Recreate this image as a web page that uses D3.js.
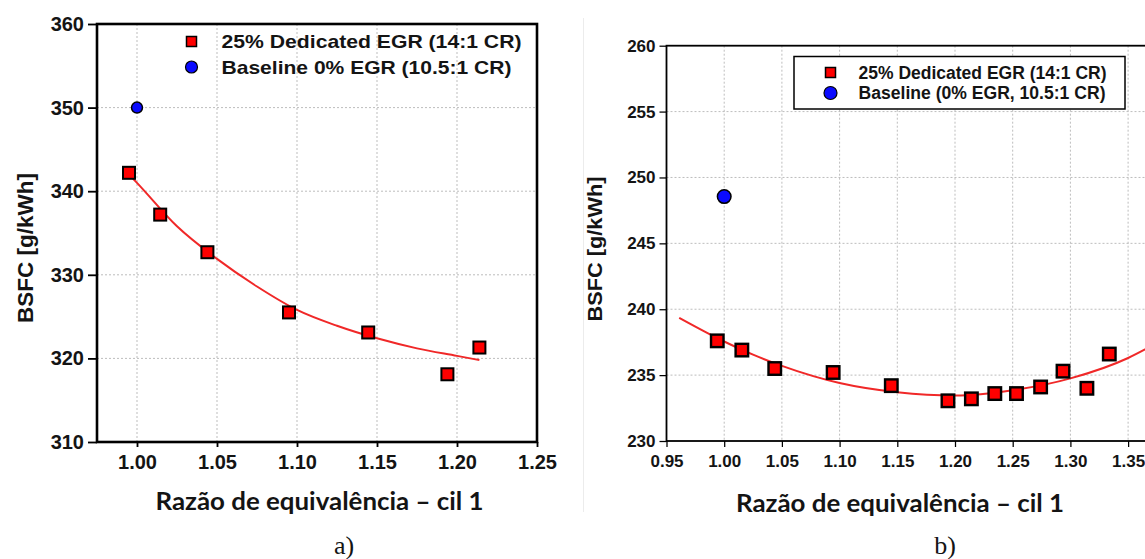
<!DOCTYPE html>
<html>
<head>
<meta charset="utf-8">
<script src="https://cdnjs.cloudflare.com/ajax/libs/d3/7.8.5/d3.min.js"></script>
<style>
body { margin: 0; background: #fff; }
svg { display: block; }
text { font-family: "Liberation Sans", Arial, sans-serif; font-weight: bold; fill: #141414; }
</style>
</head>
<body>
<div id="container"></div>
<script>
///data panel a)
const phiA = [0.995, 1.0145, 1.044, 1.095, 1.1445, 1.194, 1.214];
const bsfcA = [342.2, 337.2, 332.7, 325.5, 323.1, 318.1, 321.3];
const basePhiA = [1.00];
const baseBsfcA = [350.0];
const fitPhiA = [0.995, 1.00, 1.025, 1.05, 1.075, 1.10, 1.125, 1.15, 1.175, 1.20, 1.214];
const fitBsfcA = [342.0, 341.0, 335.8, 331.9, 328.6, 325.8, 323.9, 322.4, 321.2, 320.3, 319.8];
const xTicksA = [1.00, 1.05, 1.10, 1.15, 1.20, 1.25];
const yTicksA = [310, 320, 330, 340, 350, 360];
const legendA = ["25% Dedicated EGR (14:1 CR)", "Baseline 0% EGR (10.5:1 CR)"];

///data panel b)
const phiB = [0.994, 1.0153, 1.0438, 1.0944, 1.1448, 1.1939, 1.2142, 1.2345, 1.2533, 1.2742, 1.2936, 1.3143, 1.3337];
const bsfcB = [237.6, 236.9, 235.5, 235.2, 234.2, 233.05, 233.2, 233.6, 233.6, 234.1, 235.3, 234.0, 236.6];
const basePhiB = [1.00];
const baseBsfcB = [248.55];
const fitPhiB = [0.961, 1.00, 1.025, 1.05, 1.10, 1.15, 1.20, 1.25, 1.30, 1.35, 1.37];
const fitBsfcB = [239.35, 237.55, 236.55, 235.7, 234.4, 233.7, 233.45, 233.85, 234.75, 236.3, 237.2];
const xTicksB = [0.95, 1.00, 1.05, 1.10, 1.15, 1.20, 1.25, 1.30, 1.35];
const yTicksB = [230, 235, 240, 245, 250, 255, 260];
const legendB = ["25% Dedicated EGR (14:1 CR)", "Baseline (0% EGR, 10.5:1 CR)"];

const xTitle = "Razão de equivalência – cil 1";
const yTitle = "BSFC [g/kWh]";
const panelTags = ["a)", "b)"];

///svg
const w = 1145, h = 559;
const svg = d3.select("#container").append("svg").attr("width", w).attr("height", h);

// faint border of the second picture
svg.append("line").attr("x1", 583.5).attr("x2", 583.5).attr("y1", 18).attr("y2", 512)
  .attr("stroke", "#ececec").attr("stroke-width", 1);

function panel(p) {
  const x = d3.scaleLinear().domain(p.xDomain).range([p.left, p.right]);
  const y = d3.scaleLinear().domain(p.yDomain).range([p.bottom, p.top]);
  const g = svg.append("g");
  const clipId = "clip" + p.id;
  g.append("clipPath").attr("id", clipId).append("rect")
    .attr("x", p.left).attr("y", p.top).attr("width", p.right - p.left).attr("height", p.bottom - p.top);

  ///grid
  const grid = g.append("g").attr("stroke", "#bdbdbd").attr("stroke-width", 1).attr("stroke-dasharray", "2,2");
  grid.selectAll(".vx").data(p.xTicks.filter(t => t > p.xDomain[0] + 1e-9 && t < p.xDomain[1] - 1e-9)).join("line")
    .attr("x1", d => x(d)).attr("x2", d => x(d)).attr("y1", p.top).attr("y2", p.bottom);
  grid.selectAll(".hy").data(p.yTicks.filter(t => t > p.yDomain[0] && t < p.yDomain[1])).join("line")
    .attr("x1", p.left).attr("x2", p.right).attr("y1", d => y(d)).attr("y2", d => y(d));

  ///fit line
  const line = d3.line().x(d => x(d[0])).y(d => y(d[1])).curve(d3.curveMonotoneX);
  g.append("path").datum(d3.zip(p.fitX, p.fitY)).attr("clip-path", "url(#" + clipId + ")")
    .attr("d", line).attr("fill", "none").attr("stroke", "#f02828").attr("stroke-width", 2);

  ///markers
  const s = p.sq;
  g.append("g").attr("clip-path", "url(#" + clipId + ")").selectAll("rect").data(d3.zip(p.ptX, p.ptY)).join("rect")
    .attr("x", d => x(d[0]) - s / 2).attr("y", d => y(d[1]) - s / 2)
    .attr("width", s).attr("height", s)
    .attr("fill", "#ff0000").attr("stroke", "#000").attr("stroke-width", p.sqStroke);
  g.append("g").selectAll("circle").data(d3.zip(p.baseX, p.baseY)).join("circle")
    .attr("cx", d => x(d[0])).attr("cy", d => y(d[1])).attr("r", p.circR)
    .attr("fill", "#0a0aff").attr("stroke", "#000").attr("stroke-width", 1.5);

  ///axes
  const ax = g.append("g").attr("transform", "translate(0," + p.bottom + ")")
    .call(d3.axisBottom(x).tickValues(p.xTicks).tickFormat(d3.format(".2f"))
      .tickSize(p.xTick).tickSizeOuter(0).tickPadding(p.xPad));
  const ay = g.append("g").attr("transform", "translate(" + p.left + ",0)")
    .call(d3.axisLeft(y).tickValues(p.yTicks).tickFormat(d3.format(".0f"))
      .tickSize(p.yTick).tickSizeOuter(0).tickPadding(p.yPad));
  [ax, ay].forEach(a => {
    a.select(".domain").remove();
    a.selectAll("line").attr("stroke", "#000").attr("stroke-width", p.axisW * 0.7);
    a.selectAll("text").attr("font-family", null).style("font-size", p.tickFont + "px").attr("fill", "#1a1a1a");
  });

  ///frame
  g.append("rect").attr("x", p.left).attr("y", p.top).attr("width", p.right - p.left).attr("height", p.bottom - p.top)
    .attr("fill", "none").attr("stroke", "#000").attr("stroke-width", p.axisW);

  ///legend
  if (p.legendBox) {
    g.append("rect").attr("x", p.legendBox[0]).attr("y", p.legendBox[1])
      .attr("width", p.legendBox[2]).attr("height", p.legendBox[3])
      .attr("fill", "#fff").attr("stroke", "#000").attr("stroke-width", 1.5);
  }
  const lg = g.append("g");
  lg.append("rect").attr("x", p.legX - p.legSq / 2).attr("y", p.legY[0] - p.legSq / 2)
    .attr("width", p.legSq).attr("height", p.legSq)
    .attr("fill", "#ff0000").attr("stroke", "#000").attr("stroke-width", 1.5);
  lg.append("circle").attr("cx", p.legX).attr("cy", p.legY[1]).attr("r", p.legR)
    .attr("fill", "#0a0aff").attr("stroke", "#000").attr("stroke-width", 1.2);
  lg.selectAll("text").data(p.legend).join("text")
    .attr("x", p.legTextX).attr("y", (d, i) => p.legY[i]).attr("dy", "0.36em")
    .attr("textLength", (d, i) => p.legW[i]).attr("lengthAdjust", "spacingAndGlyphs")
    .style("font-size", p.legFont + "px").text(d => d);

  ///titles
  g.append("text").attr("transform", "translate(" + p.yTitlePos[0] + "," + p.yTitlePos[1] + ") rotate(-90)")
    .attr("text-anchor", "middle").attr("textLength", p.yTitleLen).attr("lengthAdjust", "spacingAndGlyphs")
    .style("font-size", p.yTitleFont + "px").attr("fill", "#111").text(yTitle);
  g.append("text").attr("x", p.xTitlePos[0]).attr("y", p.xTitlePos[1]).attr("text-anchor", "middle")
    .attr("textLength", 328).attr("lengthAdjust", "spacingAndGlyphs")
    .style("font-family", "Lato, 'Open Sans', sans-serif").style("font-weight", "700").style("font-size", "24px")
    .attr("fill", "#000").text(xTitle);
  g.append("text").attr("x", p.tagPos[0]).attr("y", p.tagPos[1]).attr("text-anchor", "middle")
    .style("font-family", "'Liberation Serif', 'Times New Roman', serif").style("font-weight", "normal")
    .style("font-size", "26px").attr("fill", "#000").text(p.tag);
}

panel({
  id: "a", xDomain: [0.975, 1.25], yDomain: [310, 360],
  left: 97, right: 537, top: 24, bottom: 442,
  xTicks: xTicksA, yTicks: yTicksA,
  ptX: phiA, ptY: bsfcA, baseX: basePhiA, baseY: baseBsfcA, fitX: fitPhiA, fitY: fitBsfcA,
  sq: 12, sqStroke: 2, circR: 5.5, axisW: 2.6,
  xTick: 5, xPad: 8, yTick: 9, yPad: 4, tickFont: 20,
  legend: legendA, legX: 191.5, legY: [41.5, 67], legSq: 10, legR: 6,
  legTextX: 221.5, legW: [300, 290], legFont: 19,
  yTitlePos: [33, 248], yTitleLen: 150, yTitleFont: 22,
  xTitlePos: [319.5, 510], tag: panelTags[0], tagPos: [344, 554]
});

panel({
  id: "b", xDomain: [0.95, 1.40], yDomain: [230, 260],
  left: 666.5, right: 666.5 + 9 * 57.7, top: 45.7, bottom: 441,
  xTicks: xTicksB, yTicks: yTicksB,
  ptX: phiB, ptY: bsfcB, baseX: basePhiB, baseY: baseBsfcB, fitX: fitPhiB, fitY: fitBsfcB,
  sq: 12.5, sqStroke: 2.4, circR: 6.8, axisW: 1.8,
  xTick: 6, xPad: 8, yTick: 7, yPad: 4, tickFont: 17,
  legendBox: [794, 56.5, 331, 52.5],
  legend: legendB, legX: 830.5, legY: [72.5, 93], legSq: 10, legR: 6.5,
  legTextX: 858.5, legW: [248, 247], legFont: 17.5,
  yTitlePos: [601.5, 249], yTitleLen: 145, yTitleFont: 21,
  xTitlePos: [900, 511.5], tag: panelTags[1], tagPos: [945, 554]
});
</script>
</body>
</html>
